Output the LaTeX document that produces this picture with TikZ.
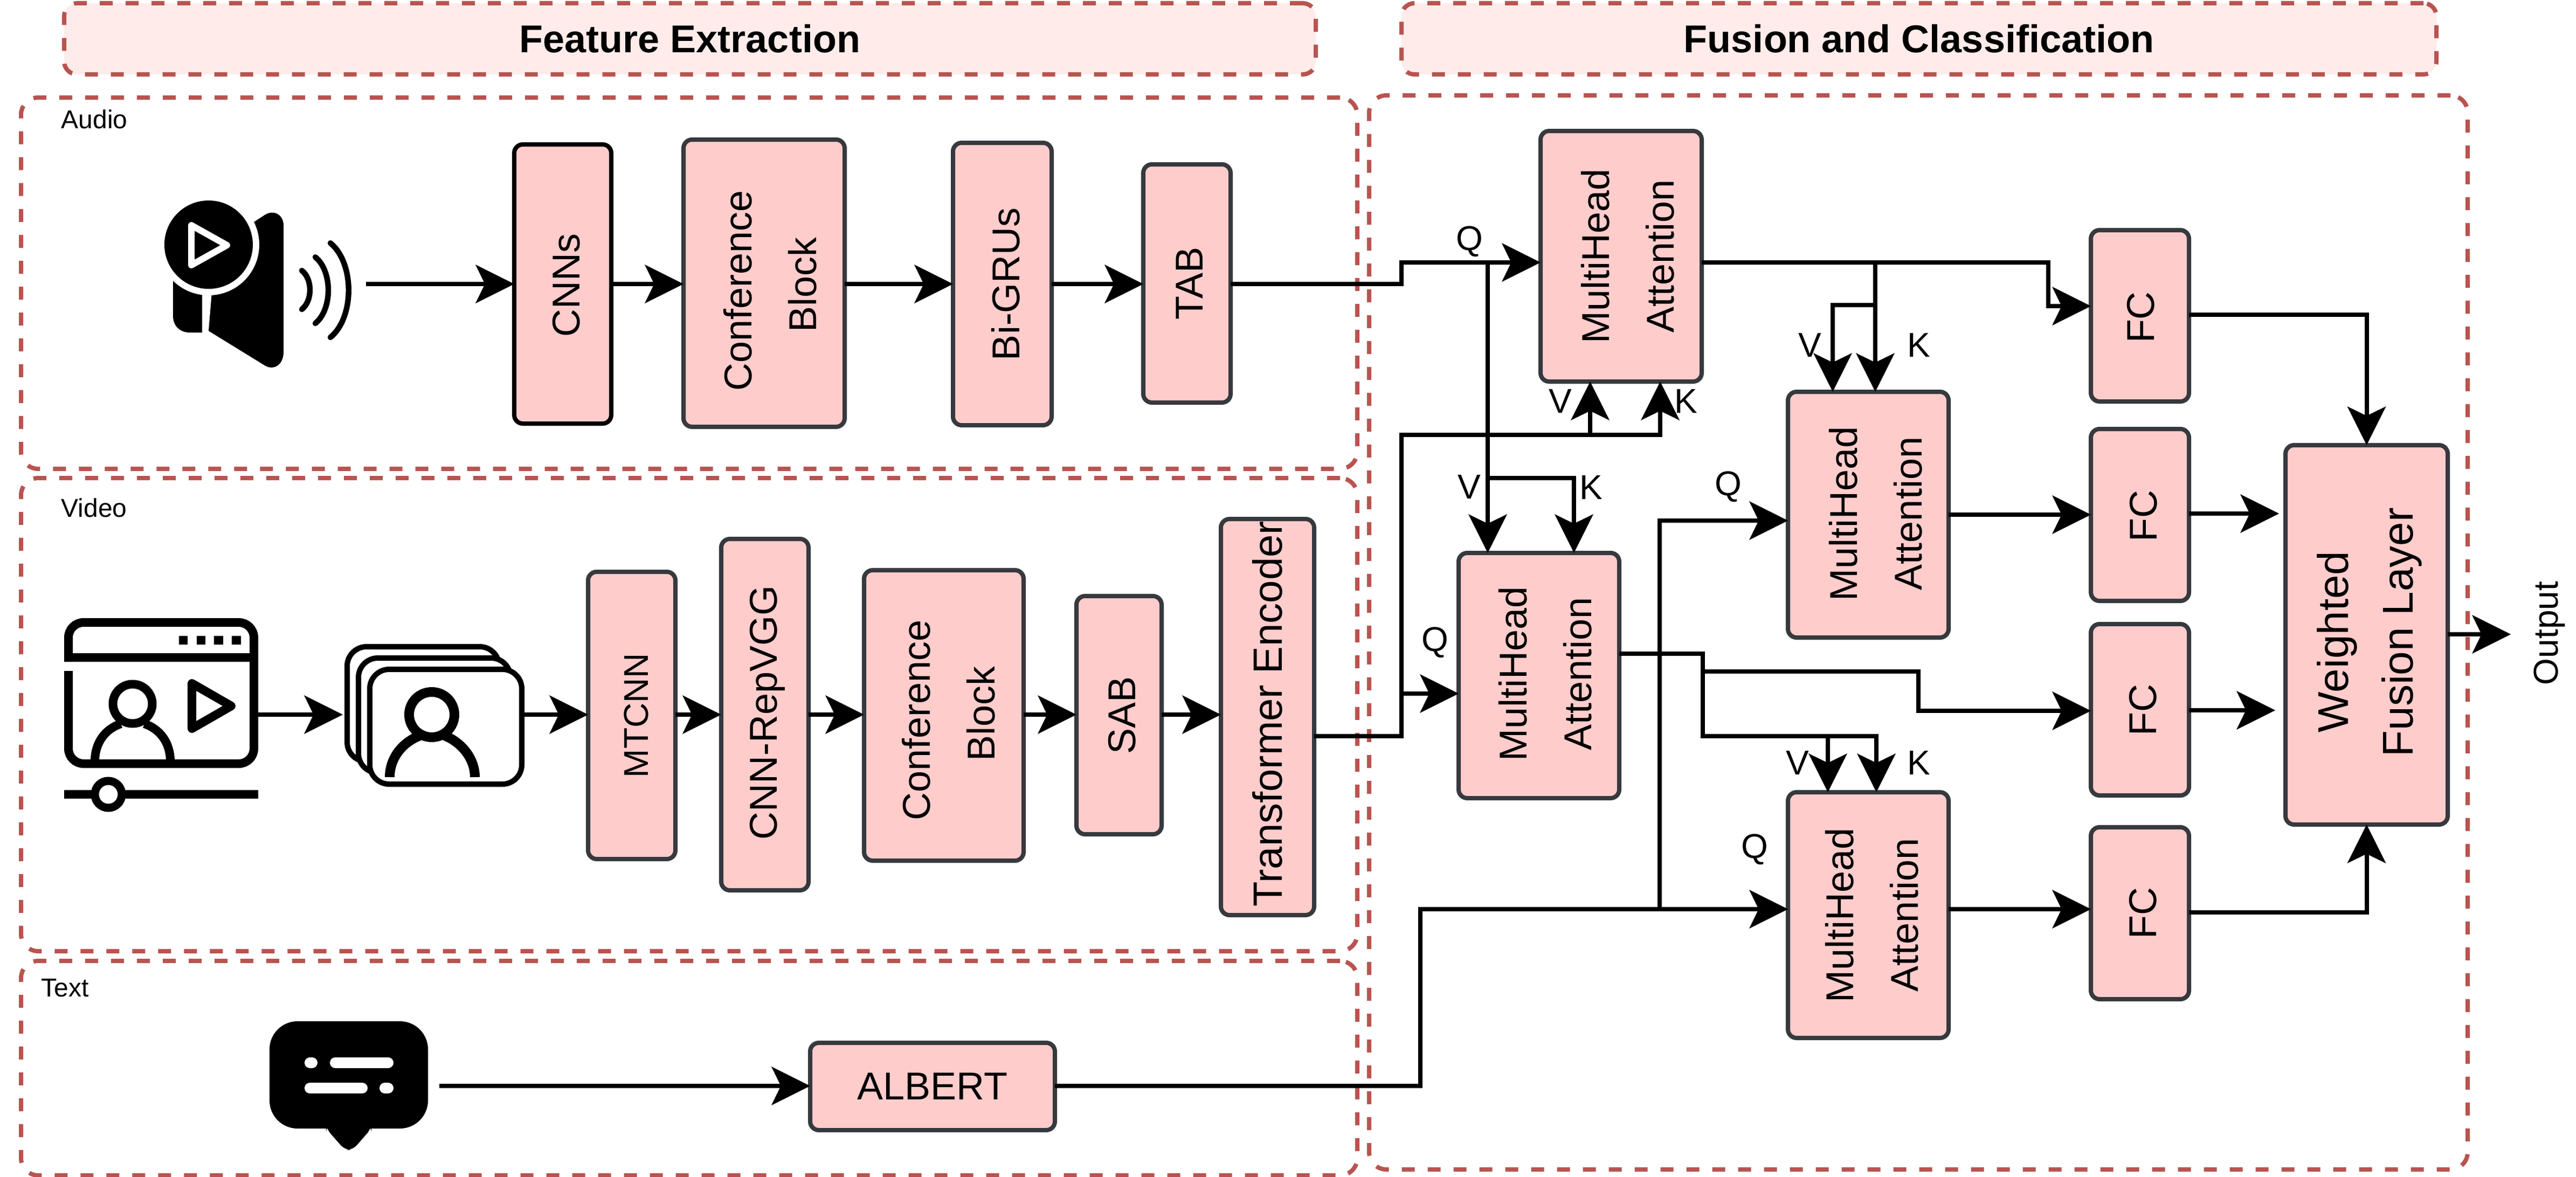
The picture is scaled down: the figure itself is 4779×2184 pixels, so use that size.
\documentclass[tikz,border=0pt]{standalone}
\usepackage{fontspec}
\setmainfont{Liberation Sans}
\usetikzlibrary{arrows.meta,calc}
\definecolor{redline}{HTML}{B85450}
\definecolor{boxfill}{HTML}{FFCCCC}
\definecolor{boxline}{HTML}{36393D}
\definecolor{titlefill}{HTML}{FFECEA}
\tikzset{
  x=0.25pt,y=-0.25pt,
  zone/.style={draw=redline,line width=2pt,dash pattern=on 6pt off 6pt,rounded corners=8pt,inner sep=0pt,outer sep=0pt},
  titlebar/.style={zone,fill=titlefill,font=\fontsize{18}{22}\selectfont\bfseries,rounded corners=6pt},
  blockbox/.style={draw=boxline,fill=boxfill,line width=2pt,rounded corners=4pt,inner sep=0pt,outer sep=0pt,font=\fontsize{18}{22}\selectfont},
  rl/.style n args={4}{label={[xshift=#1*0.25pt,yshift=-#2*0.25pt,rotate=90,align=center,inner sep=0pt,font=\fontsize{#3}{30}\selectfont]center:{#4}}},
  wire/.style={draw=black,line width=2pt},
  arr/.style={wire,-{Stealth[length=18pt,width=18pt,inset=4.4pt,line width=0pt]}},
  port/.style={inner sep=0pt,font=\fontsize{16}{18}\selectfont},
  zonetext/.style={inner sep=0pt,anchor=west,font=\fontsize{12}{14}\selectfont},
  ico/.style={draw=black,line width=4pt},
}
\newcommand{\blk}[7][]{\node[#1,minimum width={(#5-#3)*0.25pt},minimum height={(#6-#4)*0.25pt}] (#2) at ({(#3+#5)/2},{(#4+#6)/2}) {#7};}
\begin{document}
\begin{tikzpicture}
\useasboundingbox (0,-3) rectangle (4779,2181);
\fill[white] (0,-3) rectangle (4779,2181);
% zones
\blk[titlebar]{ttlA}{119}{3}{2441}{135}{Feature Extraction}
\blk[titlebar]{ttlB}{2600}{3}{4520}{135}{Fusion and Classification}
\blk[zone]{zaudio}{39}{178}{2518}{867}{}
\blk[zone]{zvideo}{39}{884}{2518}{1762}{}
\blk[zone]{ztext}{39}{1780}{2518}{2178}{}
\blk[zone]{zfus}{2540}{174}{4578}{2167}{}
\node[zonetext] (laudio) at (113,218) {Audio};
\node[zonetext] (lvideo) at (113,939) {Video};
\node[zonetext] (ltext) at (76,1830) {Text};
% blocks audio
\blk[blockbox,draw=black,rl={7}{2}{18}{CNNs}]{cnn}{954}{265}{1134}{783}{}
\blk[blockbox,rl={11}{3}{18}{Conference\hspace*{5.5pt}\\Block}]{confa}{1268}{256}{1567}{789}{}
\blk[blockbox,rl={6}{0}{18}{Bi-GRUs}]{gru}{1768}{262}{1951}{786}{}
\blk[blockbox,rl={5}{0}{18}{TAB}]{tab}{2121}{302}{2283}{744}{}
% blocks video
\blk[blockbox,rl={8}{0}{16}{MTCNN}]{mtcnn}{1091}{1058}{1253}{1591}{}
\blk[blockbox,rl={5}{-4}{18}{CNN-RepVGG}]{rep}{1338}{997}{1500}{1649}{}
\blk[blockbox,rl={9}{-3}{18}{Conference\hspace*{6pt}\\Block}]{confb}{1603}{1055}{1899}{1594}{}
\blk[blockbox,rl={6}{0}{18}{SAB}]{sab}{1997}{1103}{2155}{1545}{}
\blk[blockbox,rl={0}{-6}{19}{Transformer Encoder}]{trans}{2265}{960}{2438}{1695}{}
\blk[blockbox]{albert}{1503}{1932}{1957}{2094}{\raisebox{-2pt}{ALBERT}}
% attention
\blk[blockbox,rl={12}{0}{18}{MultiHead\\Attention}]{mhaa}{2858}{240}{3157}{705}{}
\blk[blockbox,rl={12}{-3}{18}{MultiHead\\Attention}]{mhab}{2706}{1023}{3004}{1478}{}
\blk[blockbox,rl={14}{-2}{18}{MultiHead\\Attention}]{mhac}{3317}{724}{3615}{1180}{}
\blk[blockbox,rl={7}{0}{18}{MultiHead\\Attention}]{mhad}{3317}{1467}{3615}{1923}{}
\blk[blockbox,rl={2}{3}{18}{FC}]{fca}{3879}{424}{4061}{742}{}
\blk[blockbox,rl={7}{2}{18}{FC}]{fcb}{3879}{793}{4061}{1112}{}
\blk[blockbox,rl={6}{0}{18}{FC}]{fcc}{3879}{1155}{4061}{1473}{}
\blk[blockbox,rl={6}{0}{18}{FC}]{fcd}{3879}{1532}{4061}{1851}{}
\blk[blockbox,rl={5}{-5}{20}{Weighted\hspace*{9pt}\\Fusion Layer}]{wfl}{4240}{823}{4541}{1527}{}
% free ends
\coordinate (spkout) at (679,524);
\coordinate (vidout) at (479,1323);
\coordinate (stackin) at (636,1323);
\coordinate (stackout) at (973,1323);
\coordinate (chatout) at (815,2012);
\coordinate (fcbtip) at (4228,950);
\coordinate (fcctip) at (4221,1315);
\coordinate (outtip) at (4658,1174);
% connectors audio
\draw[arr] (spkout) -- (cnn.west |- spkout);
\draw[arr] (cnn.east |- spkout) -- (confa.west |- spkout);
\draw[arr] (confa.east |- spkout) -- (gru.west |- spkout);
\draw[arr] (gru.east |- spkout) -- (tab.west |- spkout);
% connectors video
\draw[arr] (vidout) -- (stackin);
\draw[arr] (stackout) -- (mtcnn.west |- stackout);
\draw[arr] (mtcnn.east |- stackout) -- (rep.west |- stackout);
\draw[arr] (rep.east |- stackout) -- (confb.west |- stackout);
\draw[arr] (confb.east |- stackout) -- (sab.west |- stackout);
\draw[arr] (sab.east |- stackout) -- (trans.west |- stackout);
% text
\draw[arr] (chatout) -- (albert.west |- chatout);
% fusion
\draw[arr] (tab.east |- spkout) -- (2600,524) -- (2600,484) -- (mhaa.west |- 0,484);
\draw[arr] (2760,484) -- (mhab.north -| 2760,0);
\draw[arr] (2760,884) -- (2920,884) -- (mhab.north -| 2920,0);
\draw[arr] (trans.east |- 0,1363) -- (2600,1363) -- (2600,804) -- (3080,804) -- (mhaa.south -| 3080,0);
\draw[arr] (2950,804) -- (mhaa.south -| 2950,0);
\draw[arr] (2600,1284) -- (mhab.west |- 0,1284);
\draw[arr] (mhaa.east |- 0,484) -- (3800,484) -- (3800,565) -- (fca.west |- 0,565);
\draw[arr] (3479,484) -- (mhac.north -| 3479,0);
\draw[arr] (3479,563) -- (3400,563) -- (mhac.north -| 3400,0);
\draw[arr] (mhab.east |- 0,1210) -- (3159,1210) -- (3159,1363) -- (3481,1363) -- (mhad.north -| 3481,0);
\draw[arr] (3391,1363) -- (mhad.north -| 3391,0);
\draw[arr] (3159,1243) -- (3559,1243) -- (3559,1316) -- (fcc.west |- 0,1316);
\draw[arr] (albert.east |- 0,2012) -- (2635,2012) -- (2635,1684) -- (mhad.west |- 0,1684);
\draw[arr] (3079,1684) -- (3079,963) -- (mhac.west |- 0,963);
\draw[arr] (mhac.east |- 0,952) -- (fcb.west |- 0,952);
\draw[arr] (mhad.east |- 0,1684) -- (fcd.west |- 0,1684);
\draw[arr] (fca.east |- 0,581) -- (wfl.north |- 0,581) -- (wfl.north);
\draw[arr] (fcb.east |- fcbtip) -- (fcbtip);
\draw[arr] (fcc.east |- fcctip) -- (fcctip);
\draw[arr] (fcd.east |- 0,1690) -- (wfl.south |- 0,1690) -- (wfl.south);
\draw[arr] (wfl.east |- outtip) -- (outtip);
\node[rotate=90,inner sep=0pt,font=\fontsize{16}{18}\selectfont] (outlab) at (4730,1172) {Output};
% port labels
\node[port] (qa) at (2726,445) {Q};
\node[port] (va) at (2895,741) {V};
\node[port] (ka) at (3128,741) {K};
\node[port] (vb) at (2726,900) {V};
\node[port] (kb) at (2952,901) {K};
\node[port] (qc) at (3206,900) {Q};
\node[port] (vc) at (3358,637) {V};
\node[port] (kc) at (3560,637) {K};
\node[port] (qb) at (2662,1189) {Q};
\node[port] (vd) at (3335,1412) {V};
\node[port] (kd) at (3560,1412) {K};
\node[port] (qd) at (3255,1573) {Q};
% speaker icon
\fill[black] (321,500) -- (321,583) .. controls (321,603) and (335,614) .. (352,614) -- (375,614) -- (375,500) -- cycle;
\fill[black] (387,611) -- (491,675) .. controls (507,685) and (526,675) .. (526,650) -- (526,415) .. controls (526,395) and (507,385) .. (491,396) -- (400,455) -- cycle;
\fill[white] (387,451) circle[radius=94];
\fill[white] (375,533) rectangle (387,618);
\fill[black] (387,451) circle[radius=82];
\draw[white,line width=3pt,line join=round,fill=black] (355,415) -- (421,452) -- (355,489) -- cycle;
\draw[black,line width=2.6pt,line cap=round] (560,499) .. controls (580,515) and (580,555) .. (560,571);
\draw[black,line width=2.6pt,line cap=round] (585,474) .. controls (617,500) and (617,571) .. (585,597);
\draw[black,line width=2.6pt,line cap=round] (613,448) .. controls (658,485) and (658,586) .. (613,623);
% video icon
\draw[ico,rounded corners=7pt] (127,1225) -- (127,1152) -- (471,1152) -- (471,1414) -- (127,1414) -- (127,1242);
\draw[ico] (119,1217) -- (479,1217);
\fill[black] (332,1177) rectangle (348,1193) (365,1177) rectangle (381,1193) (397,1177) rectangle (414,1193) (430,1177) rectangle (447,1193);
\draw[ico] (246,1303) circle[radius=36.5];
\draw[ico] (176,1410) .. controls (176,1375) and (195,1350) .. (224,1340);
\draw[ico] (316,1410) .. controls (316,1375) and (297,1350) .. (268,1340);
\draw[ico,line join=round] (356,1265) -- (429,1307) -- (356,1349) -- cycle;
\draw[ico] (119,1471) -- (479,1471);
\draw[ico,fill=white,line width=3.75pt] (201,1471) circle[radius=25];
% frame stack icon
\draw[black,line width=2.5pt,fill=white,rounded corners=9pt] (644,1197) rectangle (926,1410);
\draw[black,line width=2.5pt,fill=white,rounded corners=9pt] (665,1218) rectangle (947,1431);
\draw[black,line width=2.5pt,fill=white,rounded corners=9pt] (686,1239) rectangle (968,1452);
\draw[black,line width=4.5pt] (801,1323) circle[radius=42];
\draw[black,line width=4.5pt] (723,1439) .. controls (723,1405) and (745,1375) .. (779,1362);
\draw[black,line width=4.5pt] (881,1439) .. controls (881,1405) and (857,1375) .. (825,1362);
% chat icon
\fill[black,rounded corners=13pt] (500,1892) rectangle (794,2091);
\fill[black,rounded corners=3pt] (605,2085) -- (605,2091) -- (640,2131) -- (654,2131) -- (689,2091) -- (689,2085) -- cycle;
\draw[white,line width=5pt,line cap=round] (575,1969) -- (579,1969) (622,1969) -- (720,1969) (575,2016) -- (672,2016) (714,2016) -- (720,2016);
\end{tikzpicture}
\end{document}
